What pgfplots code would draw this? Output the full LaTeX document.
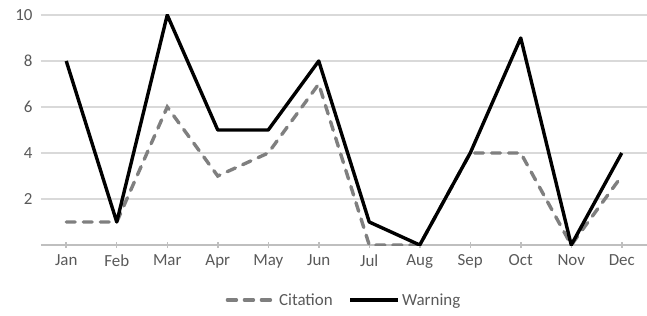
\documentclass[border=0pt]{standalone}
\usepackage{pgfplots}
\pgfplotsset{compat=1.18}
\usepackage{fontspec}
\setmainfont{Carlito}
\definecolor{txt}{HTML}{595959}
\definecolor{gridc}{HTML}{D9D9D9}
\definecolor{axc}{HTML}{BFBFBF}
\definecolor{cit}{HTML}{7F7F7F}
\begin{document}
\begin{tikzpicture}
\begin{axis}[
  scale only axis, width=606bp, height=230bp, at={(0,0)}, anchor=south west,
  xmin=-0.5, xmax=11.5, ymin=0, ymax=10,
  xtick={0,...,11},
  xticklabels={Jan,Feb,Mar,Apr,May,Jun,Jul,Aug,Sep,Oct,Nov,Dec},
  ytick={2,4,6,8,10},
  ymajorgrids, grid style={draw=gridc, line width=1.2bp},
  axis x line*=bottom, axis y line*=left,
  x axis line style={draw=axc, line width=1.8bp, -},
  y axis line style={draw=none},
  xtick align=center, major tick length=6bp,
  xtick style={draw=axc, line width=1.5bp},
  ytick style={draw=none},
  tick label style={font=\fontsize{17}{20}\selectfont, text=txt},
  /pgf/number format/assume math mode=true,
  xticklabel style={yshift=-3bp},
  yticklabel style={xshift=-5bp},
  legend style={at={(0.5,-0.239)}, anchor=center, draw=none, fill=none,
    font=\fontsize{17}{20}\selectfont, text=txt, legend columns=2,
    /tikz/every even column/.append style={column sep=14bp}},
  legend image code/.code={\draw[#1] (0bp,0bp) -- (48bp,0bp);},
]
\addplot[cit, line width=3.4bp, line cap=round, dash pattern=on 9bp off 8bp] coordinates {
(0,1) (1,1) (2,6) (3,3) (4,4) (5,7) (6,0) (7,0) (8,4) (9,4) (10,0) (11,3)};
\addlegendentry{Citation}
\addplot[black, line width=3.4bp, line join=round] coordinates {
(0,8) (1,1) (2,10) (3,5) (4,5) (5,8) (6,1) (7,0) (8,4) (9,9) (10,0) (11,4)};
\addlegendentry{Warning}
\end{axis}
\pgfresetboundingbox
\path[use as bounding box] (-41bp,-71bp) rectangle (606bp,245bp);
\end{tikzpicture}
\end{document}
